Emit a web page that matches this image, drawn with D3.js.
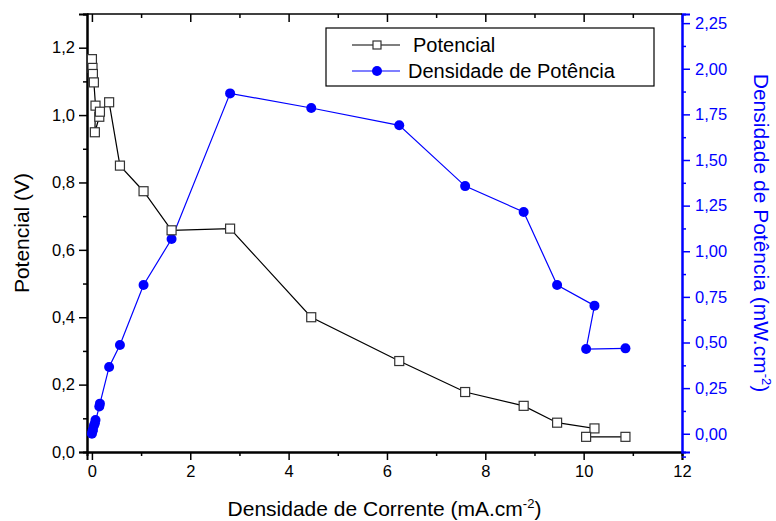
<!DOCTYPE html>
<html>
<head>
<meta charset="utf-8">
<script src="https://cdn.jsdelivr.net/npm/d3@7"></script>
<style>
  body { margin: 0; background: #fff; }
  text { font-family: "Liberation Sans", Arial, sans-serif; }
</style>
</head>
<body>
<div id="chart"></div>
<script>
// current density (mA.cm-2)
var corrente = [0, 0.012, 0.02, 0.04, 0.073, 0.06, 0.15, 0.163, 0.35, 0.57, 1.05, 1.62, 2.81,
  4.46, 6.25, 7.59, 8.78, 9.46, 10.22, 10.05, 10.85];
// potential (V)
var potencial = [1.166, 1.14, 1.122, 1.097, 1.028, 0.949, 0.995, 1.01, 1.038, 0.85, 0.774, 0.658, 0.663,
  0.40, 0.27, 0.178, 0.137, 0.087, 0.070, 0.045, 0.045];
// power density (mW.cm-2)
var potencia = [0, 0.014, 0.022, 0.044, 0.075, 0.057, 0.149, 0.165, 0.366, 0.486, 0.815, 1.067, 1.865,
  1.785, 1.69, 1.357, 1.215, 0.815, 0.702, 0.464, 0.468];

var xTicks = [0, 2, 4, 6, 8, 10, 12];
var yTicks = [0, 0.2, 0.4, 0.6, 0.8, 1.0, 1.2];
var y2Ticks = [0, 0.25, 0.5, 0.75, 1.0, 1.25, 1.5, 1.75, 2.0, 2.25];

var width = 776, height = 521;
var pLeft = 87, pRight = 682, pTop = 14, pBottom = 452;
var blue = "#0000ff";

var svg = d3.select("#chart").append("svg")
  .attr("width", width)
  .attr("height", height);

var x = d3.scaleLinear().domain([-0.1, 12]).range([pLeft, pRight]);
var y = d3.scaleLinear().domain([0, 1.3]).range([pBottom, pTop]);
var y2 = d3.scaleLinear().domain([-0.1, 2.3]).range([pBottom, pTop]);

var fmt1 = function(d) { return d3.format(".1f")(d).replace(".", ","); };
var fmt2 = function(d) { return d3.format(".2f")(d).replace(".", ","); };

function minors(ticks, step) {
  return ticks.map(function(t) { return t + step; });
}

// bottom axis
svg.append("g")
  .attr("transform", "translate(0," + pBottom + ")")
  .call(d3.axisBottom(x).tickValues(xTicks).tickFormat(d3.format("d")).tickSize(8).tickPadding(5));
svg.append("g")
  .attr("transform", "translate(0," + pBottom + ")")
  .call(d3.axisBottom(x).tickValues(minors(xTicks.slice(0, -1), 1)).tickFormat("").tickSize(4));

// top (mirror) ticks, inward
svg.append("g")
  .attr("class", "mirror")
  .attr("transform", "translate(0," + pTop + ")")
  .call(d3.axisBottom(x).tickValues(xTicks).tickFormat("").tickSize(8));
svg.append("g")
  .attr("class", "mirror")
  .attr("transform", "translate(0," + pTop + ")")
  .call(d3.axisBottom(x).tickValues(minors(xTicks.slice(0, -1), 1)).tickFormat("").tickSize(4));
svg.selectAll(".mirror .domain").remove();

// left axis
svg.append("g")
  .attr("transform", "translate(" + pLeft + ",0)")
  .call(d3.axisLeft(y).tickValues(yTicks).tickFormat(fmt1).tickSize(8).tickPadding(4));
svg.append("g")
  .attr("transform", "translate(" + pLeft + ",0)")
  .call(d3.axisLeft(y).tickValues(minors(yTicks, 0.1)).tickFormat("").tickSize(4));

// right axis (blue)
svg.append("g")
  .attr("class", "raxis")
  .attr("transform", "translate(" + pRight + ",0)")
  .call(d3.axisRight(y2).tickValues(y2Ticks).tickFormat(fmt2).tickSize(8).tickPadding(5));
svg.append("g")
  .attr("class", "raxis")
  .attr("transform", "translate(" + pRight + ",0)")
  .call(d3.axisRight(y2).tickValues(minors(y2Ticks, -0.125)).tickFormat("").tickSize(4));

// top frame line
svg.append("line")
  .attr("x1", pLeft).attr("x2", pRight)
  .attr("y1", pTop).attr("y2", pTop)
  .attr("stroke", "#000").attr("stroke-width", 1.5);

svg.selectAll(".domain").attr("stroke-width", 2);
svg.selectAll(".tick line").attr("stroke-width", 1.5);
svg.selectAll(".tick text").style("font-size", "16.5px").attr("fill", "#000");
svg.selectAll(".raxis .domain, .raxis .tick line").attr("stroke", blue);
svg.selectAll(".raxis .tick text").attr("fill", blue);

// data
var pts = corrente.map(function(c, i) {
  return { c: c, v: potencial[i], p: potencia[i] };
});

var lineV = d3.line().x(function(d) { return x(d.c); }).y(function(d) { return y(d.v); });
var lineP = d3.line().x(function(d) { return x(d.c); }).y(function(d) { return y2(d.p); });

svg.append("path")
  .datum(pts)
  .attr("d", lineP)
  .attr("fill", "none")
  .attr("stroke", blue)
  .attr("stroke-width", 1.2);

svg.append("path")
  .datum(pts)
  .attr("d", lineV)
  .attr("fill", "none")
  .attr("stroke", "#000")
  .attr("stroke-width", 1.2);

svg.selectAll(".dot")
  .data(pts)
  .enter().append("circle")
  .attr("class", "dot")
  .attr("cx", function(d) { return x(d.c); })
  .attr("cy", function(d) { return y2(d.p); })
  .attr("r", 5)
  .attr("fill", blue);

svg.selectAll(".sq")
  .data(pts)
  .enter().append("rect")
  .attr("class", "sq")
  .attr("x", function(d) { return x(d.c) - 4.5; })
  .attr("y", function(d) { return y(d.v) - 4.5; })
  .attr("width", 9)
  .attr("height", 9)
  .attr("fill", "#fff")
  .attr("stroke", "#333")
  .attr("stroke-width", 1.2);

// axis titles
svg.append("text")
  .attr("transform", "translate(29," + ((pTop + pBottom) / 2) + ") rotate(-90)")
  .attr("text-anchor", "middle")
  .style("font-size", "21px")
  .text("Potencial (V)");

var xt = svg.append("text")
  .attr("x", (pLeft + pRight) / 2)
  .attr("y", 516)
  .attr("text-anchor", "middle")
  .style("font-size", "21px");
xt.append("tspan").text("Densidade de Corrente (mA.cm");
xt.append("tspan").attr("dy", -8).style("font-size", "13px").text("-2");
xt.append("tspan").attr("dy", 8).text(")");

var rt = svg.append("text")
  .attr("transform", "translate(754," + ((pTop + pBottom) / 2) + ") rotate(90)")
  .attr("text-anchor", "middle")
  .attr("fill", blue)
  .style("font-size", "21px");
rt.append("tspan").text("Densidade de Potência (mW.cm");
rt.append("tspan").attr("dy", -8).style("font-size", "13px").text("-2");
rt.append("tspan").attr("dy", 8).text(")");

// legend
var lg = svg.append("g").attr("transform", "translate(326,28)");
lg.append("rect")
  .attr("width", 328).attr("height", 58)
  .attr("fill", "#fff").attr("stroke", "#000").attr("stroke-width", 1.2);

lg.append("line").attr("x1", 26).attr("x2", 74).attr("y1", 17).attr("y2", 17)
  .attr("stroke", "#000").attr("stroke-width", 1.2);
lg.append("rect").attr("x", 47).attr("y", 13).attr("width", 8).attr("height", 8)
  .attr("fill", "#fff").attr("stroke", "#333").attr("stroke-width", 1.2);
lg.append("text").attr("x", 87).attr("y", 24).style("font-size", "20px").text("Potencial");

lg.append("line").attr("x1", 26).attr("x2", 74).attr("y1", 43).attr("y2", 43)
  .attr("stroke", blue).attr("stroke-width", 1.2);
lg.append("circle").attr("cx", 51).attr("cy", 43).attr("r", 5).attr("fill", blue);
lg.append("text").attr("x", 82).attr("y", 50).style("font-size", "20px").text("Densidade de Potência");
</script>
</body>
</html>
